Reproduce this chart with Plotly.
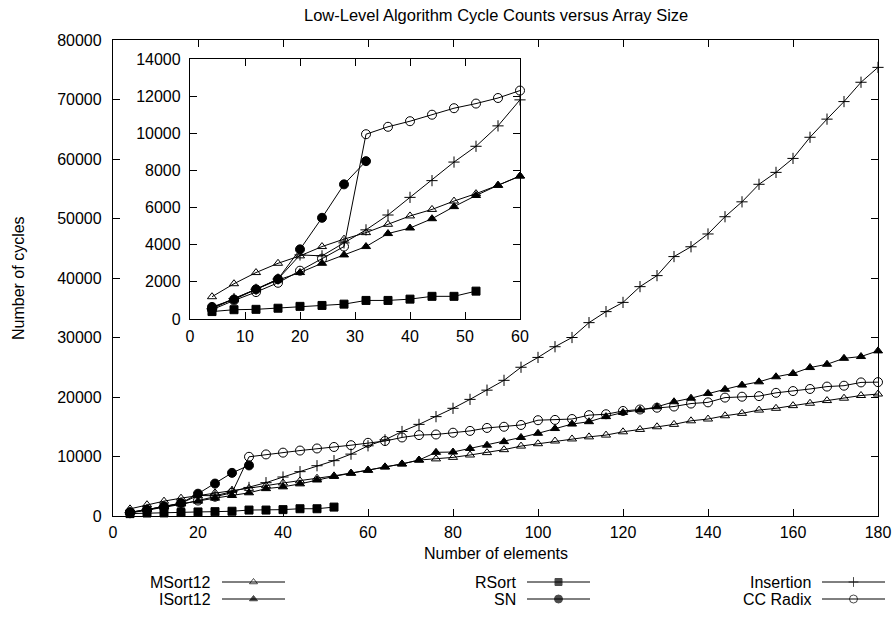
import plotly.graph_objects as go

W, H = 896, 623

# ---- data: cycle counts per array size ----
n_elements = list(range(4, 181, 4))

msort12 = [1200, 1900, 2500, 3000, 3400, 3900, 4300, 4650, 5100, 5550, 5900, 6350,
           6750, 7200, 7700, 8250, 8750, 9400, 9600, 9850, 10250, 10650, 11150, 11750,
           12150, 12600, 12950, 13300, 13600, 14150, 14550, 15000, 15400, 16000, 16300,
           16850, 17250, 17800, 18100, 18550, 18950, 19400, 19800, 20250, 20500]

isort12 = [600, 1100, 1600, 2100, 2500, 3000, 3450, 3900, 4600, 4900, 5400, 6050,
           6650, 7200, 7700, 8250, 8750, 9400, 10700, 10750, 11350, 11900, 12500, 13200,
           13900, 14700, 15450, 15850, 16700, 17400, 17800, 18350, 19200, 19800, 20600,
           21300, 22000, 22550, 23400, 23950, 24950, 25500, 26500, 26800, 27750]

insertion = [550, 1100, 1600, 2150, 3450, 3400, 4100, 4800, 5600, 6550, 7450, 8450,
             9300, 10400, 11800, 12800, 14200, 15400, 16700, 18100, 19600, 21150, 22800,
             25000, 26650, 28450, 30000, 32500, 34350, 35900, 38550, 40400, 43600, 45250,
             47400, 50300, 52800, 55750, 57750, 60100, 63650, 66700, 69650, 72900, 75400]

cc_radix = [500, 1000, 1450, 1950, 2600, 3250, 3900, 9950, 10350, 10650, 11000, 11350,
            11600, 11900, 12300, 12600, 13200, 13600, 13700, 14000, 14300, 14800, 15000,
            15300, 16100, 16150, 16300, 16950, 17100, 17650, 17900, 18200, 18400, 18900,
            19100, 19900, 20050, 20150, 20700, 21000, 21350, 21750, 21900, 22450, 22500]

rsort_n = n_elements[:13]
rsort = [400, 500, 520, 580, 680, 730, 800, 1000, 1000, 1070, 1220, 1220, 1500]

sn_n = n_elements[:8]
sn = [650, 1050, 1600, 2150, 3750, 5450, 7250, 8500]

series = [
    ("MSort12", n_elements, msort12, "triangle-up-open", 8),
    ("ISort12", n_elements, isort12, "triangle-up", 8),
    ("RSort", rsort_n, rsort, "square", 8),
    ("SN", sn_n, sn, "circle", 9),
    ("Insertion", n_elements, insertion, "cross-thin", 8),
    ("CC Radix", n_elements, cc_radix, "circle-open", 9),
]

TITLE = "Low-Level Algorithm Cycle Counts versus Array Size"
X_TITLE = "Number of elements"
Y_TITLE = "Number of cycles"
INSET_MAX_N = 60

FONT = "Liberation Sans, Arial, Helvetica, sans-serif"
FS = 16
FS_TITLE = 16.5

# ---- layout geometry (pixels) ----
main_box = dict(l=113, r=878, t=40, b=516)
inset_box = dict(l=190, r=520, t=59, b=319)


def xdom(box):
    return [box["l"] / W, box["r"] / W]


def ydom(box):
    return [1 - box["b"] / H, 1 - box["t"] / H]


fig = go.Figure()


def marker_style(symbol, size):
    return dict(symbol=symbol, size=size, color="black",
                line=dict(color="black", width=1))


# main chart
for name, xs, ys, sym, size in series:
    fig.add_trace(go.Scatter(
        x=xs, y=ys, mode="lines+markers", name=name,
        line=dict(color="black", width=1),
        marker=marker_style(sym, size),
        cliponaxis=False, showlegend=False,
        xaxis="x", yaxis="y"))

# inset: small sizes only
for name, xs, ys, sym, size in series:
    pts = [(a, b) for a, b in zip(xs, ys) if a <= INSET_MAX_N]
    fig.add_trace(go.Scatter(
        x=[p[0] for p in pts], y=[p[1] for p in pts], mode="lines+markers", name=name,
        line=dict(color="black", width=1),
        marker=marker_style(sym, size),
        cliponaxis=False, showlegend=False,
        xaxis="x2", yaxis="y2"))

# key: text right-aligned, followed by a line sample with the symbol
key_cols = [213, 518, 813]
key_rows = [582, 599]
annotations = []
for i, (name, xs, ys, sym, size) in enumerate(series):
    col, row = divmod(i, 2)
    tx = key_cols[col]
    ty = key_rows[row]
    annotations.append(dict(
        x=tx / W, y=1 - ty / H, xref="paper", yref="paper",
        text=name, showarrow=False, xanchor="right", yanchor="middle",
        font=dict(family=FONT, size=FS, color="black")))
    x0, x1 = tx + 9, tx + 72
    fig.add_trace(go.Scatter(
        x=[x0, (x0 + x1) / 2, x1], y=[ty, ty, ty], mode="lines+markers",
        line=dict(color="black", width=1),
        marker=dict(symbol=sym, size=[0, size - 1, 0], color="black",
                    line=dict(color="black", width=1)),
        cliponaxis=False, showlegend=False, hoverinfo="skip",
        xaxis="x3", yaxis="y3"))

annotations += [
    dict(x=(main_box["l"] + main_box["r"]) / 2 / W, y=1 - 15 / H,
         xref="paper", yref="paper", text=TITLE, showarrow=False,
         xanchor="center", yanchor="middle",
         font=dict(family=FONT, size=FS_TITLE, color="black")),
    dict(x=(main_box["l"] + main_box["r"]) / 2 / W, y=1 - 553 / H,
         xref="paper", yref="paper", text=X_TITLE, showarrow=False,
         xanchor="center", yanchor="middle",
         font=dict(family=FONT, size=FS, color="black")),
    dict(x=18 / W, y=1 - (main_box["t"] + main_box["b"]) / 2 / H,
         xref="paper", yref="paper", text=Y_TITLE, showarrow=False,
         textangle=-90, xanchor="center", yanchor="middle",
         font=dict(family=FONT, size=FS, color="black")),
]

axis_common = dict(
    showline=True, linecolor="black", linewidth=1.3, mirror="ticks",
    ticks="inside", ticklen=7, tickwidth=1, tickcolor="black",
    showgrid=False, zeroline=False, fixedrange=True, automargin=False,
    tickfont=dict(family=FONT, size=FS, color="black"),
)

fig.update_layout(
    width=W, height=H,
    margin=dict(l=0, r=0, t=0, b=0, pad=0, autoexpand=False),
    paper_bgcolor="white", plot_bgcolor="rgba(0,0,0,0)",
    showlegend=False,
    xaxis=dict(domain=xdom(main_box), range=[0, 180], tick0=0, dtick=20,
               anchor="y", ticklabelstandoff=2, **axis_common),
    yaxis=dict(domain=ydom(main_box), range=[0, 80000], tick0=0, dtick=10000,
               tickformat="d", anchor="x", ticklabelstandoff=7, **axis_common),
    xaxis2=dict(domain=xdom(inset_box), range=[0, 60], tick0=0, dtick=10,
                anchor="y2", ticklabelstandoff=3, **axis_common),
    yaxis2=dict(domain=ydom(inset_box), range=[0, 14000], tick0=0, dtick=2000,
                tickformat="d", anchor="x2", ticklabelstandoff=5, **axis_common),
    xaxis3=dict(domain=[0, 1], range=[0, W], visible=False, fixedrange=True,
                automargin=False, anchor="y3"),
    yaxis3=dict(domain=[0, 1], range=[H, 0], visible=False, fixedrange=True,
                automargin=False, anchor="x3"),
    annotations=annotations,
)

fig.write_html("out.html")
